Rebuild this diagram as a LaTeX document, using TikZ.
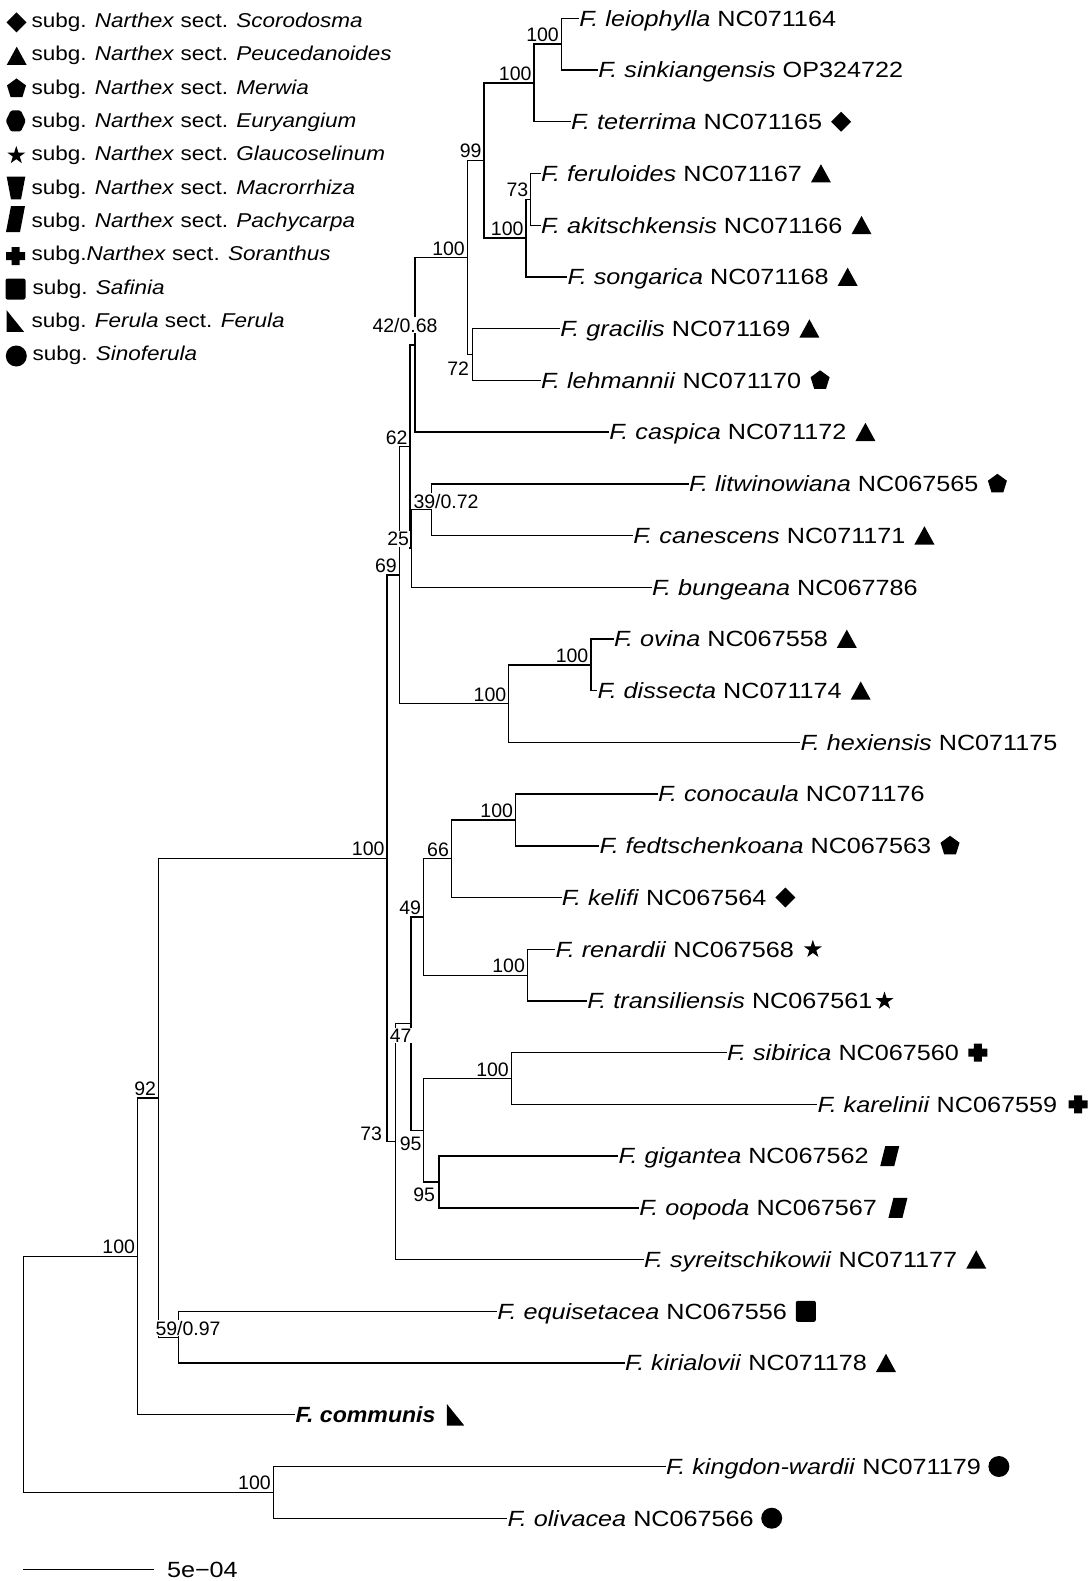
\documentclass[tikz,border=0pt]{standalone}
\usepackage{fontspec}
\setmainfont{Liberation Sans}
\usepackage{graphicx}
\newcommand{\lfx}[1]{\scalebox{1.145}[1]{#1}}
\newcommand{\lgx}[1]{\scalebox{1.125}[1]{#1}}
\tikzset{
 br/.style={line width=1.4pt, line cap=rect, line join=miter},
 leaf/.style={anchor=west, inner sep=1pt, outer sep=0pt, text height=15.7pt, text depth=0pt, font=\fontsize{22}{26}\selectfont},
 nl/.style={anchor=base east, inner sep=1pt, outer sep=0pt, fill=white, font=\fontsize{19.5}{23}\selectfont},
 nlw/.style={nl, anchor=base west},
 nls/.style={nl, xshift=-1.5pt, yshift=2.5pt},
 lg/.style={anchor=base west, inner sep=0pt, outer sep=0pt, font=\fontsize{20}{24}\selectfont},
 symdiam/.pic={\fill (0,-10)--(10,0)--(0,10)--(-10,0)--cycle;},
 symtri/.pic={\fill (-10,9)--(10,9)--(0,-9.3)--cycle;},
 sympent/.pic={\fill (0,-10)--(9.5,-3.1)--(5.9,8.6)--(-5.9,8.6)--(-9.5,-3.1)--cycle;},
 symhex/.pic={\fill[rounded corners=1.5pt] (-10,0)--(-5,-10.5)--(5,-10.5)--(10,0)--(5,10.5)--(-5,10.5)--cycle;},
 symstar/.pic={\fill (0,-9.5)--(2.13,-2.94)--(9.04,-2.94)--(3.45,1.12)--(5.58,7.69)--(0,3.63)--(-5.58,7.69)--(-3.45,1.12)--(-9.04,-2.94)--(-2.13,-2.94)--cycle;},
 symtrap/.pic={\fill (-9.3,-11.3)--(9.3,-11.3)--(5,11.3)--(-5,11.3)--cycle;},
 sympara/.pic={\fill (-4.5,-10)--(9.5,-10)--(4.5,10)--(-9.5,10)--cycle;},
 symplus/.pic={\fill (-4,-9)--(4,-9)--(4,-4)--(9.5,-4)--(9.5,4)--(4,4)--(4,9)--(-4,9)--(-4,4)--(-9.5,4)--(-9.5,-4)--(-4,-4)--cycle;},
 symsq/.pic={\fill[rounded corners=2pt] (-10,-10.5) rectangle (10,10.5);},
 symrt/.pic={\fill (-8.7,-10.8)--(8.7,10.8)--(-8.7,10.8)--cycle;},
 symcirc/.pic={\fill (0,0) circle (10.5);}
}
\begin{document}
\begin{tikzpicture}[x=1pt,y=-1pt]
\useasboundingbox (0,0) rectangle (1090,1581);
% ---------- legend ----------
\pic at (16.5,22.5) {symdiam};
\node[lg] (G1t) at (31.5,27.5) {\lgx{subg. \textit{Narthex} sect. \textit{Scorodosma}}};
\pic at (16.7,56) {symtri};
\node[lg] (G2t) at (31.5,60.8) {\lgx{subg. \textit{Narthex} sect. \textit{Peucedanoides}}};
\pic at (16.5,88.5) {sympent};
\node[lg] (G3t) at (31.5,94.2) {\lgx{subg. \textit{Narthex} sect. \textit{Merwia}}};
\pic at (15.8,121) {symhex};
\node[lg] (G4t) at (31.5,127.5) {\lgx{subg. \textit{Narthex} sect. \textit{Euryangium}}};
\pic at (16.3,155.5) {symstar};
\node[lg] (G5t) at (31.5,160.8) {\lgx{subg. \textit{Narthex} sect. \textit{Glaucoselinum}}};
\pic at (16,188) {symtrap};
\node[lg] (G6t) at (31.5,194.2) {\lgx{subg. \textit{Narthex} sect. \textit{Macrorrhiza}}};
\pic[yscale=1.3] at (15.5,219) {sympara};
\node[lg] (G7t) at (31.5,227.5) {\lgx{subg. \textit{Narthex} sect. \textit{Pachycarpa}}};
\pic at (15.5,256) {symplus};
\node[lg] (G8t) at (31.5,260.8) {\lgx{subg.\textit{Narthex} sect. \textit{Soranthus}}};
\pic at (15.5,289) {symsq};
\node[lg] (G9t) at (32.5,294.2) {\lgx{subg. \textit{Safinia}}};
\pic at (15.3,321) {symrt};
\node[lg] (G10t) at (31.5,327.5) {\lgx{subg. \textit{Ferula} sect. \textit{Ferula}}};
\pic at (16.3,356) {symcirc};
\node[lg] (G11t) at (32.5,360.8) {\lgx{subg. \textit{Sinoferula}}};
% ---------- leaf tips ----------
\coordinate (L1) at (578.3,18.3);
\coordinate (L2) at (597.3,70.0);
\coordinate (L3) at (570,121.7);
\coordinate (L4) at (540,173.5);
\coordinate (L5) at (540,225.2);
\coordinate (L6) at (566.7,276.9);
\coordinate (L7) at (559.3,328.6);
\coordinate (L8) at (540,380.3);
\coordinate (L9) at (608.3,432.1);
\coordinate (L10) at (688,483.8);
\coordinate (L11) at (632.3,535.5);
\coordinate (L12) at (651,587.2);
\coordinate (L13) at (613,638.9);
\coordinate (L14) at (596.6,690.7);
\coordinate (L15) at (799.7,742.4);
\coordinate (L16) at (657,794.1);
\coordinate (L17) at (598.6,845.8);
\coordinate (L18) at (560.9,897.5);
\coordinate (L19) at (554.7,949.3);
\coordinate (L20) at (586.3,1001.0);
\coordinate (L21) at (726,1052.7);
\coordinate (L22) at (816.6,1104.4);
\coordinate (L23) at (617.5,1156.1);
\coordinate (L24) at (638.3,1207.9);
\coordinate (L25) at (643,1259.6);
\coordinate (L26) at (496.4,1311.3);
\coordinate (L27) at (624.1,1363.0);
\coordinate (L28) at (294.6,1414.7);
\coordinate (L29) at (665.2,1466.5);
\coordinate (L30) at (506.7,1518.2);
% ---------- internal nodes ----------
\coordinate (A1) at (561.3,44.2);
\coordinate (A2) at (534,83.0);
\coordinate (A4) at (530.7,199.3);
\coordinate (A5) at (526,238.1);
\coordinate (A3) at (484,160.5);
\coordinate (A6) at (472.3,354.5);
\coordinate (A7) at (467.3,257.5);
\coordinate (A8) at (415,344.8);
\coordinate (B1) at (431.4,509.7);
\coordinate (B2) at (411.5,548.4);
\coordinate (B3) at (410,446.6);
\coordinate (C1) at (590.8,664.8);
\coordinate (C2) at (508.7,703.6);
\coordinate (N69) at (399.3,575.1);
\coordinate (D1) at (515.5,820.0);
\coordinate (D2) at (451.4,858.7);
\coordinate (D3) at (527.4,975.2);
\coordinate (D4) at (423.5,916.9);
\coordinate (E1) at (511.3,1078.6);
\coordinate (E2) at (439.1,1182.0);
\coordinate (E3) at (423.5,1130.3);
\coordinate (F2) at (410.8,1023.6);
\coordinate (F1) at (395.2,1141.6);
\coordinate (NB) at (387,858.4);
\coordinate (G1) at (178.6,1337.2);
\coordinate (N92) at (158.5,1097.8);
\coordinate (H1) at (137.5,1256.2);
\coordinate (R2) at (273.2,1492.4);
\coordinate (RT) at (23.2,1374.3);
% ---------- branches ----------
\draw[br] (A1) |- (L1);  \draw[br] (A1) |- (L2);
\draw[br] (A2) |- (A1);  \draw[br] (A2) |- (L3);
\draw[br] (A4) |- (L4);  \draw[br] (A4) |- (L5);
\draw[br] (A5) |- (A4);  \draw[br] (A5) |- (L6);
\draw[br] (A3) |- (A2);  \draw[br] (A3) |- (A5);
\draw[br] (A6) |- (L7);  \draw[br] (A6) |- (L8);
\draw[br] (A7) |- (A3);  \draw[br] (A7) |- (A6);
\draw[br] (A8) |- (A7);  \draw[br] (A8) |- (L9);
\draw[br] (B1) |- (L10); \draw[br] (B1) |- (L11);
\draw[br] (B2) |- (B1);  \draw[br] (B2) |- (L12);
\draw[br] (B3) |- (A8);  \draw[br] (B3) |- (B2);
\draw[br] (C1) |- (L13); \draw[br] (C1) |- (L14);
\draw[br] (C2) |- (C1);  \draw[br] (C2) |- (L15);
\draw[br] (N69) |- (B3); \draw[br] (N69) |- (C2);
\draw[br] (D1) |- (L16); \draw[br] (D1) |- (L17);
\draw[br] (D2) |- (D1);  \draw[br] (D2) |- (L18);
\draw[br] (D3) |- (L19); \draw[br] (D3) |- (L20);
\draw[br] (D4) |- (D2);  \draw[br] (D4) |- (D3);
\draw[br] (E1) |- (L21); \draw[br] (E1) |- (L22);
\draw[br] (E2) |- (L23); \draw[br] (E2) |- (L24);
\draw[br] (E3) |- (E1);  \draw[br] (E3) |- (E2);
\draw[br] (F2) |- (D4);  \draw[br] (F2) |- (E3);
\draw[br] (F1) |- (F2);  \draw[br] (F1) |- (L25);
\draw[br] (NB) |- (N69); \draw[br] (NB) |- (F1);
\draw[br] (G1) |- (L26); \draw[br] (G1) |- (L27);
\draw[br] (N92) |- (NB); \draw[br] (N92) |- (G1);
\draw[br] (H1) |- (N92); \draw[br] (H1) |- (L28);
\draw[br] (R2) |- (L29); \draw[br] (R2) |- (L30);
\draw[br] (RT) |- (H1);  \draw[br] (RT) |- (R2);
% ---------- tip labels ----------
\node[leaf] (T1) at (L1) {\lfx{\textit{F. leiophylla} NC071164}};
\node[leaf] (T2) at (L2) {\lfx{\textit{F. sinkiangensis} OP324722}};
\node[leaf] (T3) at (L3) {\lfx{\textit{F. teterrima} NC071165}};
\node[leaf] (T4) at (L4) {\lfx{\textit{F. feruloides} NC071167}};
\node[leaf] (T5) at (L5) {\lfx{\textit{F. akitschkensis} NC071166}};
\node[leaf] (T6) at (L6) {\lfx{\textit{F. songarica} NC071168}};
\node[leaf] (T7) at (L7) {\lfx{\textit{F. gracilis} NC071169}};
\node[leaf] (T8) at (L8) {\lfx{\textit{F. lehmannii} NC071170}};
\node[leaf] (T9) at (L9) {\lfx{\textit{F. caspica} NC071172}};
\node[leaf] (T10) at (L10) {\lfx{\textit{F. litwinowiana} NC067565}};
\node[leaf] (T11) at (L11) {\lfx{\textit{F. canescens} NC071171}};
\node[leaf] (T12) at (L12) {\lfx{\textit{F. bungeana} NC067786}};
\node[leaf] (T13) at (L13) {\lfx{\textit{F. ovina} NC067558}};
\node[leaf] (T14) at (L14) {\lfx{\textit{F. dissecta} NC071174}};
\node[leaf] (T15) at (L15) {\lfx{\textit{F. hexiensis} NC071175}};
\node[leaf] (T16) at (L16) {\lfx{\textit{F. conocaula} NC071176}};
\node[leaf] (T17) at (L17) {\lfx{\textit{F. fedtschenkoana} NC067563}};
\node[leaf] (T18) at (L18) {\lfx{\textit{F. kelifi} NC067564}};
\node[leaf] (T19) at (L19) {\lfx{\textit{F. renardii} NC067568}};
\node[leaf] (T20) at (L20) {\lfx{\textit{F. transiliensis} NC067561}};
\node[leaf] (T21) at (L21) {\lfx{\textit{F. sibirica} NC067560}};
\node[leaf] (T22) at (L22) {\lfx{\textit{F. karelinii} NC067559}};
\node[leaf] (T23) at (L23) {\lfx{\textit{F. gigantea} NC067562}};
\node[leaf] (T24) at (L24) {\lfx{\textit{F. oopoda} NC067567}};
\node[leaf] (T25) at (L25) {\lfx{\textit{F. syreitschikowii} NC071177}};
\node[leaf] (T26) at (L26) {\lfx{\textit{F. equisetacea} NC067556}};
\node[leaf] (T27) at (L27) {\lfx{\textit{F. kirialovii} NC071178}};
\node[leaf] (T28) at (L28) {\scalebox{1.05}[1]{\textbf{\textit{F. communis}}}};
\node[leaf] (T29) at (L29) {\lfx{\textit{F. kingdon-wardii} NC071179}};
\node[leaf] (T30) at (L30) {\lfx{\textit{F. olivacea} NC067566}};
% ---------- tip symbols ----------
\pic at ([xshift=18pt]T3.east) {symdiam};
\pic at ([xshift=18pt]T4.east) {symtri};
\pic at ([xshift=18pt]T5.east) {symtri};
\pic at ([xshift=18pt]T6.east) {symtri};
\pic at ([xshift=18pt]T7.east) {symtri};
\pic at ([xshift=18pt]T8.east) {sympent};
\pic at ([xshift=18pt]T9.east) {symtri};
\pic at ([xshift=18pt]T10.east) {sympent};
\pic at ([xshift=18pt]T11.east) {symtri};
\pic at ([xshift=18pt]T13.east) {symtri};
\pic at ([xshift=18pt]T14.east) {symtri};
\pic at ([xshift=18pt]T17.east) {sympent};
\pic at ([xshift=18pt]T18.east) {symdiam};
\pic at ([xshift=18pt]T19.east) {symstar};
\pic at ([xshift=11pt]T20.east) {symstar};
\pic at ([xshift=18pt]T21.east) {symplus};
\pic at ([xshift=20pt]T22.east) {symplus};
\pic at ([xshift=20pt]T23.east) {sympara};
\pic at ([xshift=20pt]T24.east) {sympara};
\pic at ([xshift=18pt]T25.east) {symtri};
\pic at ([xshift=18pt]T26.east) {symsq};
\pic at ([xshift=18pt]T27.east) {symtri};
\pic at ([xshift=19pt]T28.east) {symrt};
\pic at ([xshift=17pt]T29.east) {symcirc};
\pic at ([xshift=17pt]T30.east) {symcirc};
% ---------- node support labels ----------
\node[nls] (sA1) at (A1) {100};
\node[nls] (sA2) at (A2) {100};
\node[nls] (sA3) at (A3) {99};
\node[nls] (sA4) at (A4) {73};
\node[nls] (sA5) at (A5) {100};
\node[nl] (sA6) at (470,375) {72};
\node[nls] (sA7) at (A7) {100};
\node[nlw] (sA8) at (371.5,332.3) {42/0.68};
\node[nlw] (sB1) at (412.5,508) {39/0.72};
\node[nls] (sB2) at (B2) {25};
\node[nls] (sB3) at (B3) {62};
\node[nls] (sC1) at (C1) {100};
\node[nls] (sC2) at (C2) {100};
\node[nls] (sN69) at (N69) {69};
\node[nls] (sD1) at (D1) {100};
\node[nls] (sD2) at (D2) {66};
\node[nls] (sD3) at (D3) {100};
\node[nls] (sD4) at (D4) {49};
\node[nls] (sE1) at (E1) {100};
\node[nl] (sE2) at (436,1201) {95};
\node[nl] (sE3) at (422.5,1150) {95};
\node[nl] (sF2) at (412.5,1042) {47};
\node[nl] (sF1) at (383,1140) {73};
\node[nls] (sNB) at (NB) {100};
\node[nlw] (sG1) at (154.5,1335) {59/0.97};
\node[nls] (sN92) at (N92) {92};
\node[nls] (sH1) at (H1) {100};
\node[nls] (sR2) at (R2) {100};
% ---------- scale bar ----------
\coordinate (SB1) at (23.2,1569.3);
\coordinate (SB2) at (153.1,1569.3);
\draw[br] (SB1) -- (SB2);
\node[leaf] (SBt) at (166,1569.3) {\lfx{5e\char"2212 04}};
\end{tikzpicture}
\end{document}
